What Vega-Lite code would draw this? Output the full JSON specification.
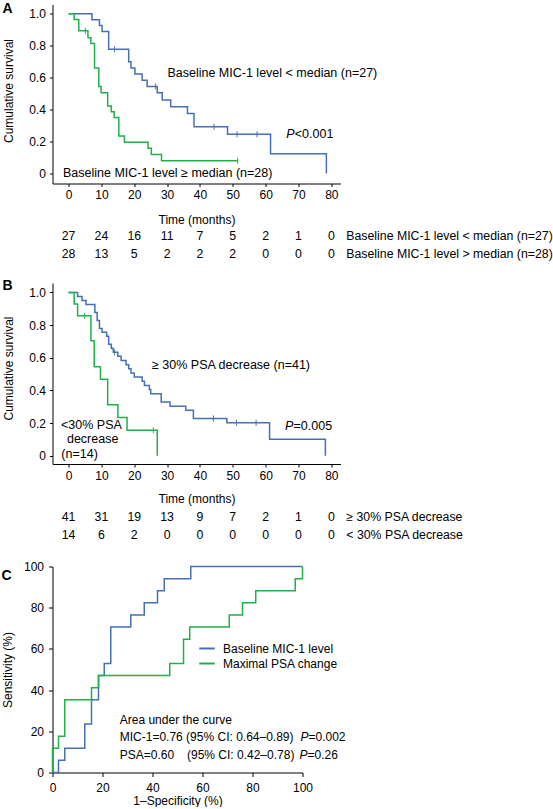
{
"$schema":"https://vega.github.io/schema/vega-lite/v6.json",
"padding":{"left":1.5,"top":1.5,"right":0,"bottom":0},
"config":{
 "font":"Liberation Sans",
 "view":{"stroke":null},
 "axis":{"grid":false,"domainColor":"#000","tickColor":"#000","labelColor":"#000","titleColor":"#000","labelFontSize":12,"titleFontSize":12,"titleFontWeight":"normal","labelFont":"Liberation Sans","titleFont":"Liberation Sans","tickSize":3,"labelPadding":3,"domainWidth":1,"tickWidth":1,"labelFlush":false,"labelOverlap":false},
 "text":{"fontSize":12,"font":"Liberation Sans","color":"#000"},
 "title":{"fontSize":14,"fontWeight":"bold","anchor":"start","frame":"bounds","color":"#000","font":"Liberation Sans","baseline":"alphabetic"},
 "legend":{"labelFont":"Liberation Sans","labelFontSize":12,"labelColor":"#000"}
},
"datasets":{
 "kmA":[
  {"g":"lt","i":0,"t":0,"s":1},{"g":"lt","i":1,"t":7.1,"s":0.963},{"g":"lt","i":2,"t":9.4,"s":0.926},{"g":"lt","i":3,"t":10.2,"s":0.889},{"g":"lt","i":4,"t":12.2,"s":0.778},{"g":"lt","i":5,"t":18.3,"s":0.7},{"g":"lt","i":6,"t":19.0,"s":0.66},{"g":"lt","i":7,"t":20.2,"s":0.623},{"g":"lt","i":8,"t":22.4,"s":0.584},{"g":"lt","i":9,"t":23.9,"s":0.545},{"g":"lt","i":10,"t":27.0,"s":0.505},{"g":"lt","i":11,"t":28.5,"s":0.46},{"g":"lt","i":12,"t":31.1,"s":0.418},{"g":"lt","i":13,"t":36.2,"s":0.376},{"g":"lt","i":14,"t":38.2,"s":0.293},{"g":"lt","i":15,"t":48.4,"s":0.245},{"g":"lt","i":16,"t":61.5,"s":0.123},{"g":"lt","i":17,"t":78.5,"s":0},
  {"g":"ge","i":0,"t":0,"s":1},{"g":"ge","i":1,"t":1.7,"s":0.964},{"g":"ge","i":2,"t":3.1,"s":0.893},{"g":"ge","i":3,"t":5.9,"s":0.85},{"g":"ge","i":4,"t":6.8,"s":0.813},{"g":"ge","i":5,"t":7.9,"s":0.66},{"g":"ge","i":6,"t":9.2,"s":0.545},{"g":"ge","i":7,"t":9.9,"s":0.505},{"g":"ge","i":8,"t":11.9,"s":0.423},{"g":"ge","i":9,"t":13.0,"s":0.387},{"g":"ge","i":10,"t":13.9,"s":0.351},{"g":"ge","i":11,"t":15.3,"s":0.235},{"g":"ge","i":12,"t":17.0,"s":0.195},{"g":"ge","i":13,"t":24.2,"s":0.157},{"g":"ge","i":14,"t":25.2,"s":0.118},{"g":"ge","i":15,"t":28.3,"s":0.08},{"g":"ge","i":16,"t":51.5,"s":0.08}
 ],
 "censA":[
  {"g":"lt","t":14.0,"s":0.778},{"g":"lt","t":26.5,"s":0.545},{"g":"lt","t":44.3,"s":0.293},{"g":"lt","t":51.3,"s":0.245},{"g":"lt","t":57.4,"s":0.245},
  {"g":"ge","t":5.1,"s":0.893},{"g":"ge","t":51.5,"s":0.08}
 ],
 "annA":[
  {"t":30.1,"s":0.632,"label":"Baseline MIC-1 level < median (n=27)"},
  {"t":-1.7,"s":0.004,"label":"Baseline MIC-1 level ≥ median (n=28)"}
 ],
 "pA":[{"t":66.3,"s":0.244,"rest":"<0.001"}],
 "riskA":[
  {"row":"lt","t":0,"n":27},{"row":"lt","t":10,"n":24},{"row":"lt","t":20,"n":16},{"row":"lt","t":30,"n":11},{"row":"lt","t":40,"n":7},{"row":"lt","t":50,"n":5},{"row":"lt","t":60,"n":2},{"row":"lt","t":70,"n":1},{"row":"lt","t":80,"n":0},
  {"row":"ge","t":0,"n":28},{"row":"ge","t":10,"n":13},{"row":"ge","t":20,"n":5},{"row":"ge","t":30,"n":2},{"row":"ge","t":40,"n":2},{"row":"ge","t":50,"n":2},{"row":"ge","t":60,"n":0},{"row":"ge","t":70,"n":0},{"row":"ge","t":80,"n":0}
 ],
 "riskLabA":[
  {"row":"lt","label":"Baseline MIC-1 level < median (n=27)"},
  {"row":"ge","label":"Baseline MIC-1 level > median (n=28)"}
 ],
 "kmB":[
  {"g":"ge30","i":0,"t":0,"s":1},{"g":"ge30","i":1,"t":2.75,"s":0.976},{"g":"ge30","i":2,"t":4.1,"s":0.951},{"g":"ge30","i":3,"t":5.3,"s":0.927},{"g":"ge30","i":4,"t":8.0,"s":0.878},{"g":"ge30","i":5,"t":8.7,"s":0.829},{"g":"ge30","i":6,"t":9.4,"s":0.78},{"g":"ge30","i":7,"t":10.2,"s":0.756},{"g":"ge30","i":8,"t":11.6,"s":0.732},{"g":"ge30","i":9,"t":12.2,"s":0.683},{"g":"ge30","i":10,"t":13.0,"s":0.659},{"g":"ge30","i":11,"t":13.6,"s":0.634},{"g":"ge30","i":12,"t":15.0,"s":0.609},{"g":"ge30","i":13,"t":16.0,"s":0.583},{"g":"ge30","i":14,"t":17.5,"s":0.558},{"g":"ge30","i":15,"t":18.3,"s":0.533},{"g":"ge30","i":16,"t":19.0,"s":0.507},{"g":"ge30","i":17,"t":20.0,"s":0.482},{"g":"ge30","i":18,"t":22.4,"s":0.456},{"g":"ge30","i":19,"t":23.1,"s":0.431},{"g":"ge30","i":20,"t":24.6,"s":0.406},{"g":"ge30","i":21,"t":25.0,"s":0.38},{"g":"ge30","i":22,"t":28.2,"s":0.33},{"g":"ge30","i":23,"t":30.9,"s":0.304},{"g":"ge30","i":24,"t":35.7,"s":0.279},{"g":"ge30","i":25,"t":38.0,"s":0.228},{"g":"ge30","i":26,"t":48.2,"s":0.203},{"g":"ge30","i":27,"t":61.2,"s":0.101},{"g":"ge30","i":28,"t":78.2,"s":0},
  {"g":"lt30","i":0,"t":0,"s":1},{"g":"lt30","i":1,"t":1.7,"s":0.929},{"g":"lt30","i":2,"t":2.75,"s":0.857},{"g":"lt30","i":3,"t":6.8,"s":0.705},{"g":"lt30","i":4,"t":7.8,"s":0.545},{"g":"lt30","i":5,"t":9.7,"s":0.469},{"g":"lt30","i":6,"t":11.9,"s":0.312},{"g":"lt30","i":7,"t":15.0,"s":0.235},{"g":"lt30","i":8,"t":17.8,"s":0.157},{"g":"lt30","i":9,"t":27.0,"s":0}
 ],
 "censB":[
  {"g":"ge30","t":14.0,"s":0.634},{"g":"ge30","t":44.1,"s":0.228},{"g":"ge30","t":51.1,"s":0.203},{"g":"ge30","t":57.1,"s":0.203},
  {"g":"lt30","t":4.9,"s":0.857},{"g":"lt30","t":25.8,"s":0.157}
 ],
 "annB":[
  {"t":25.4,"s":0.555,"label":"≥ 30% PSA decrease (n=41)"},
  {"t":-2.3,"s":0.188,"label":"<30% PSA"},
  {"t":-0.5,"s":0.104,"label":"decrease"},
  {"t":-2.2,"s":0.01,"label":"(n=14)"}
 ],
 "pB":[{"t":65.9,"s":0.184,"rest":"=0.005"}],
 "riskB":[
  {"row":"ge30","t":0,"n":41},{"row":"ge30","t":10,"n":31},{"row":"ge30","t":20,"n":19},{"row":"ge30","t":30,"n":13},{"row":"ge30","t":40,"n":9},{"row":"ge30","t":50,"n":7},{"row":"ge30","t":60,"n":2},{"row":"ge30","t":70,"n":1},{"row":"ge30","t":80,"n":0},
  {"row":"lt30","t":0,"n":14},{"row":"lt30","t":10,"n":6},{"row":"lt30","t":20,"n":2},{"row":"lt30","t":30,"n":0},{"row":"lt30","t":40,"n":0},{"row":"lt30","t":50,"n":0},{"row":"lt30","t":60,"n":0},{"row":"lt30","t":70,"n":0},{"row":"lt30","t":80,"n":0}
 ],
 "riskLabB":[
  {"row":"ge30","label":"≥ 30% PSA decrease"},
  {"row":"lt30","label":"< 30% PSA decrease"}
 ],
 "roc":[
  {"g":"Baseline MIC-1 level","i":0,"x":0,"y":0},{"g":"Baseline MIC-1 level","i":1,"x":2.4,"y":5.9},{"g":"Baseline MIC-1 level","i":2,"x":4.9,"y":11.8},{"g":"Baseline MIC-1 level","i":3,"x":12.9,"y":23.5},{"g":"Baseline MIC-1 level","i":4,"x":15.6,"y":35.3},{"g":"Baseline MIC-1 level","i":5,"x":18.4,"y":47.1},{"g":"Baseline MIC-1 level","i":6,"x":20.7,"y":52.9},{"g":"Baseline MIC-1 level","i":7,"x":23.3,"y":70.6},{"g":"Baseline MIC-1 level","i":8,"x":31.3,"y":76.5},{"g":"Baseline MIC-1 level","i":9,"x":36.7,"y":82.4},{"g":"Baseline MIC-1 level","i":10,"x":42.0,"y":88.2},{"g":"Baseline MIC-1 level","i":11,"x":44.7,"y":94.1},{"g":"Baseline MIC-1 level","i":12,"x":55.3,"y":100},{"g":"Baseline MIC-1 level","i":13,"x":100,"y":100},
  {"g":"Maximal PSA change","i":0,"x":0,"y":0},{"g":"Maximal PSA change","i":1,"x":0,"y":11.8},{"g":"Maximal PSA change","i":2,"x":2.4,"y":17.6},{"g":"Maximal PSA change","i":3,"x":4.9,"y":35.3},{"g":"Maximal PSA change","i":4,"x":15.6,"y":41.2},{"g":"Maximal PSA change","i":5,"x":18.4,"y":47.1},{"g":"Maximal PSA change","i":6,"x":46.9,"y":52.9},{"g":"Maximal PSA change","i":7,"x":52.4,"y":64.7},{"g":"Maximal PSA change","i":8,"x":54.9,"y":70.6},{"g":"Maximal PSA change","i":9,"x":70.7,"y":76.5},{"g":"Maximal PSA change","i":10,"x":76.0,"y":82.4},{"g":"Maximal PSA change","i":11,"x":81.3,"y":88.2},{"g":"Maximal PSA change","i":12,"x":97.1,"y":94.1},{"g":"Maximal PSA change","i":13,"x":100,"y":100}
 ],
 "annC":[
  {"x":26.9,"y":25.7,"label":"Area under the curve"},
  {"x":26.9,"y":17.3,"label":"MIC-1=0.76 (95% CI: 0.64–0.89)"},
  {"x":26.9,"y":8.7,"label":"PSA=0.60"},
  {"x":53.8,"y":8.7,"label":"(95% CI: 0.42–0.78)"}
 ],
 "pC":[{"x":99.2,"y":17.3,"rest":"=0.002"},{"x":98.8,"y":8.7,"rest":"=0.26"}]
},
"resolve":{"scale":{"color":"independent"},"legend":{"color":"independent"}},
"spacing":14.5,
"vconcat":[
 {"spacing":1,
  "vconcat":[
   {"width":288,"height":179,
    "title":{"text":"A","offset":-11},
    "layer":[
     {"data":{"name":"kmA"},"mark":{"type":"line","interpolate":"step-after","strokeWidth":1.5},
      "encoding":{
       "x":{"field":"t","type":"quantitative","scale":{"domain":[-4.9,82.8],"nice":false,"zero":false},"axis":{"values":[0,10,20,30,40,50,60,70,80],"tickCount":20,"labelOverlap":false,"title":"Time (months)","titlePadding":13.5}},
       "y":{"field":"s","type":"quantitative","scale":{"domain":[-0.063,1.058],"nice":false,"zero":false},"axis":{"values":[0,0.2,0.4,0.6,0.8,1],"tickCount":20,"labelOverlap":false,"labelExpr":"datum.value == 0 ? '0' : format(datum.value, '.1f')","title":"Cumulative survival","titleX":-44,"titleY":86,"titleBaseline":"middle","labelPadding":4}},
       "color":{"field":"g","type":"nominal","scale":{"domain":["lt","ge"],"range":["#4670b5","#22b04b"]},"legend":null},
       "order":{"field":"i"}}},
     {"data":{"name":"censA"},"mark":{"type":"tick","orient":"vertical","size":6,"thickness":1,"opacity":1},
      "encoding":{"x":{"field":"t","type":"quantitative"},"y":{"field":"s","type":"quantitative"},"color":{"field":"g","type":"nominal","legend":null}}},
     {"data":{"name":"annA"},"mark":{"type":"text","align":"left","baseline":"middle","fontSize":12.5},
      "encoding":{"x":{"field":"t","type":"quantitative"},"y":{"field":"s","type":"quantitative"},"text":{"field":"label"}}},
     {"data":{"name":"pA"},"mark":{"type":"text","align":"left","baseline":"middle","fontStyle":"italic","fontSize":12.5},
      "encoding":{"x":{"field":"t","type":"quantitative"},"y":{"field":"s","type":"quantitative"},"text":{"value":"P"}}},
     {"data":{"name":"pA"},"mark":{"type":"text","align":"left","baseline":"middle","dx":8.5,"fontSize":12.5},
      "encoding":{"x":{"field":"t","type":"quantitative"},"y":{"field":"s","type":"quantitative"},"text":{"field":"rest"}}}
    ]},
   {"width":288,"height":37,
    "layer":[
     {"data":{"name":"riskA"},"mark":{"type":"text","baseline":"middle","fontSize":12.3},
      "encoding":{
       "x":{"field":"t","type":"quantitative","scale":{"domain":[-4.9,82.8],"nice":false,"zero":false},"axis":null},
       "y":{"field":"row","type":"nominal","scale":{"type":"point","padding":0.5,"domain":["lt","ge"]},"axis":null},
       "text":{"field":"n"}}},
     {"data":{"name":"riskLabA"},"mark":{"type":"text","baseline":"middle","align":"left","dx":15,"fontSize":12.3},
      "encoding":{
       "x":{"datum":80,"type":"quantitative"},
       "y":{"field":"row","type":"nominal"},
       "text":{"field":"label"}}}
    ]}
  ]},
 {"spacing":15.5,
  "resolve":{"scale":{"color":"independent"},"legend":{"color":"independent"}},
  "vconcat":[
 {"spacing":3.5,
  "vconcat":[
   {"width":288,"height":181,
    "title":{"text":"B","offset":-9.5},
    "layer":[
     {"data":{"name":"kmB"},"mark":{"type":"line","interpolate":"step-after","strokeWidth":1.5},
      "encoding":{
       "x":{"field":"t","type":"quantitative","scale":{"domain":[-4.9,82.8],"nice":false,"zero":false},"axis":{"values":[0,10,20,30,40,50,60,70,80],"tickCount":20,"labelOverlap":false,"title":"Time (months)","titlePadding":12}},
       "y":{"field":"s","type":"quantitative","scale":{"domain":[-0.05,1.058],"nice":false,"zero":false},"axis":{"values":[0,0.2,0.4,0.6,0.8,1],"tickCount":20,"labelOverlap":false,"labelExpr":"datum.value == 0 ? '0' : format(datum.value, '.1f')","title":"Cumulative survival","titleX":-44,"titleY":85,"titleBaseline":"middle","labelPadding":4}},
       "color":{"field":"g","type":"nominal","scale":{"domain":["ge30","lt30"],"range":["#4670b5","#22b04b"]},"legend":null},
       "order":{"field":"i"}}},
     {"data":{"name":"censB"},"mark":{"type":"tick","orient":"vertical","size":6,"thickness":1,"opacity":1},
      "encoding":{"x":{"field":"t","type":"quantitative"},"y":{"field":"s","type":"quantitative"},"color":{"field":"g","type":"nominal","legend":null}}},
     {"data":{"name":"annB"},"mark":{"type":"text","align":"left","baseline":"middle","fontSize":12.5},
      "encoding":{"x":{"field":"t","type":"quantitative"},"y":{"field":"s","type":"quantitative"},"text":{"field":"label"}}},
     {"data":{"name":"pB"},"mark":{"type":"text","align":"left","baseline":"middle","fontStyle":"italic","fontSize":12.5},
      "encoding":{"x":{"field":"t","type":"quantitative"},"y":{"field":"s","type":"quantitative"},"text":{"value":"P"}}},
     {"data":{"name":"pB"},"mark":{"type":"text","align":"left","baseline":"middle","dx":8.5,"fontSize":12.5},
      "encoding":{"x":{"field":"t","type":"quantitative"},"y":{"field":"s","type":"quantitative"},"text":{"field":"rest"}}}
    ]},
   {"width":288,"height":37,
    "layer":[
     {"data":{"name":"riskB"},"mark":{"type":"text","baseline":"middle","fontSize":12.3},
      "encoding":{
       "x":{"field":"t","type":"quantitative","scale":{"domain":[-4.9,82.8],"nice":false,"zero":false},"axis":null},
       "y":{"field":"row","type":"nominal","scale":{"type":"point","padding":0.5,"domain":["ge30","lt30"]},"axis":null},
       "text":{"field":"n"}}},
     {"data":{"name":"riskLabB"},"mark":{"type":"text","baseline":"middle","align":"left","dx":15,"fontSize":12.3},
      "encoding":{
       "x":{"datum":80,"type":"quantitative"},
       "y":{"field":"row","type":"nominal"},
       "text":{"field":"label"}}}
    ]}
  ]},
 {"width":250,"height":206,
  "title":{"text":"C","offset":-22},
  "layer":[
   {"data":{"name":"roc"},"mark":{"type":"line","interpolate":"step-after","strokeWidth":1.5},
    "encoding":{
     "x":{"field":"x","type":"quantitative","scale":{"domain":[0,100],"nice":false},"axis":{"values":[0,20,40,60,80,100],"tickCount":20,"labelOverlap":false,"title":"1–Specificity (%)","tickSize":4,"labelPadding":5.5,"titlePadding":2.5}},
     "y":{"field":"y","type":"quantitative","scale":{"domain":[0,100],"nice":false},"axis":{"values":[0,20,40,60,80,100],"tickCount":20,"labelOverlap":false,"title":"Sensitivity (%)","titleX":-45,"titleBaseline":"middle","tickSize":4,"labelPadding":5}},
     "color":{"field":"g","type":"nominal","scale":{"domain":["Baseline MIC-1 level","Maximal PSA change"],"range":["#4670b5","#22b04b"]},
       "legend":{"title":null,"orient":"none","legendX":145.5,"legendY":73,"padding":0,"symbolType":"stroke","symbolSize":240,"symbolStrokeWidth":2,"rowPadding":0,"labelOffset":7,"labelFontSize":12}},
     "order":{"field":"i"}}},
   {"data":{"name":"annC"},"mark":{"type":"text","align":"left","baseline":"middle","fontSize":12},
    "encoding":{"x":{"field":"x","type":"quantitative"},"y":{"field":"y","type":"quantitative"},"text":{"field":"label"}}},
   {"data":{"name":"pC"},"mark":{"type":"text","align":"left","baseline":"middle","fontStyle":"italic","fontSize":12},
    "encoding":{"x":{"field":"x","type":"quantitative"},"y":{"field":"y","type":"quantitative"},"text":{"value":"P"}}},
   {"data":{"name":"pC"},"mark":{"type":"text","align":"left","baseline":"middle","dx":8,"fontSize":12},
    "encoding":{"x":{"field":"x","type":"quantitative"},"y":{"field":"y","type":"quantitative"},"text":{"field":"rest"}}}
  ]}
  ]}
]
}
